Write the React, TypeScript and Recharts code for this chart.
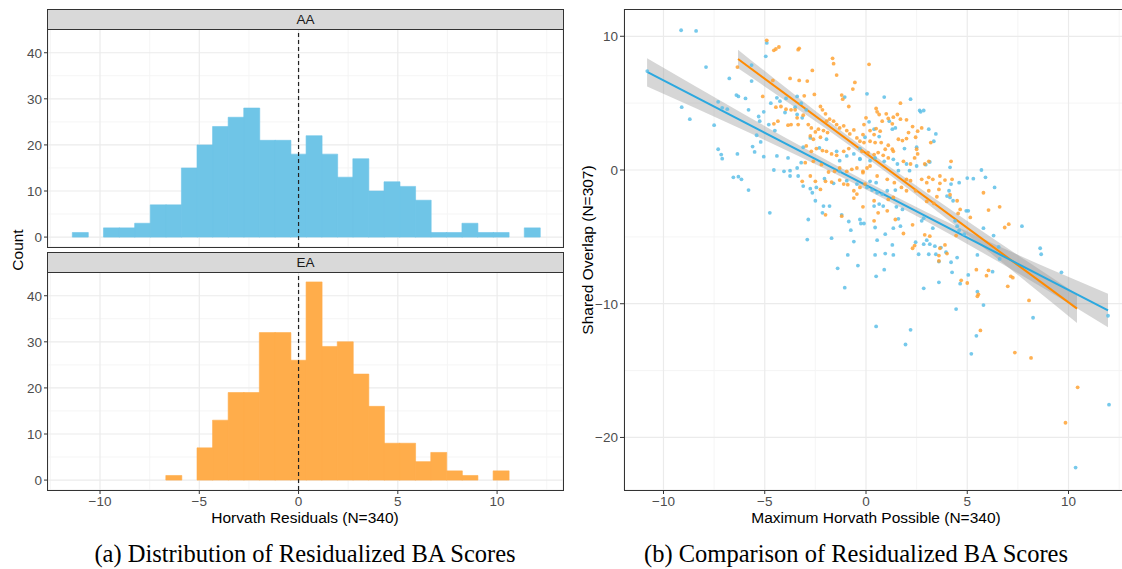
import { ComposedChart, Bar, XAxis, YAxis, ReferenceLine, Scatter, Line, Area, CartesianGrid } from "recharts";

// ---- left: histograms of Horvath residuals ----
const histTicksX = [-10, -5, 0, 5, 10];
const histMinorX = [-12.5, -7.5, -2.5, 2.5, 7.5, 12.5];
const countTicks = [0, 10, 20, 30, 40];
const countMinor = [5, 15, 25, 35];

const binMids = [
  -11.003, -10.218, -9.433, -8.648, -7.863, -7.078, -6.293, -5.508, -4.723, -3.938,
  -3.153, -2.368, -1.583, -0.798, -0.013, 0.772, 1.557, 2.342, 3.127, 3.912,
  4.697, 5.482, 6.267, 7.052, 7.837, 8.622, 9.407, 10.192, 10.977, 11.762,
];
const aaCounts = [1, 0, 2, 2, 3, 7, 7, 15, 20, 24, 26, 28, 21, 21, 18, 22, 18, 13, 17, 10, 12, 11, 8, 1, 1, 3, 1, 1, 0, 2];
const eaCounts = [0, 0, 0, 0, 0, 0, 1, 0, 7, 13, 19, 19, 32, 32, 26, 43, 29, 30, 23, 16, 8, 8, 4, 6, 2, 1, 0, 2, 0, 0];

// ---- right: scatter ----
const scatTicksX = [-10, -5, 0, 5, 10];
const scatMinorX = [-7.5, -2.5, 2.5, 7.5, 12.5];
const scatTicksY = [-20, -10, 0, 10];
const scatMinorY = [-15, -5, 5];

const aaPoints = [
  [-9.13, 10.45], [-8.39, 10.4], [-10.8, 7.4], [-7.9, 7.7], [-9.1, 4.7], [-8.7, 3.8], [-6.75, 6.85], [-7.5, 3.35],
  [-7.3, 1.55], [-7.15, 1.15], [-7.1, 0.85], [-6.35, 1.2], [-6.55, -0.55], [-6.3, -0.5], [-6.15, -0.7], [-5.8, -1.5],
  [-6.4, 5.6], [-6.3, 5.5], [-5.95, 5.35], [-7.3, 5.1], [-7.1, 4.65], [-6.85, 4.55], [-5.8, 4.5], [-5.65, 7.85],
  [-4.95, 8.5], [-4.9, 9.5], [-5.65, 6.65], [-5.3, 4.0], [-5.05, 4.35], [-5.25, 3.65], [-5.4, 2.6], [-5.2, 2.1],
  [-5.6, 1.75], [-5.5, 1.35], [-5.05, 1.0], [-4.8, 3.4], [-4.5, 2.95], [-4.7, 5.0], [-4.4, 5.4], [-3.95, 5.35],
  [-3.4, 5.5], [-3.2, 5.0], [-3.5, 4.7], [-2.95, 4.5], [-3.4, 4.15], [-3.15, 3.9], [-4.4, 1.05], [-3.85, 0.9],
  [-3.4, 0.15], [-3.2, 0.55], [-3.1, 1.7], [-2.75, 2.4], [-4.55, 0.0], [-4.05, -0.1], [-3.75, -0.45], [-3.35, -0.45],
  [-3.1, -1.2], [-2.75, -1.4], [-2.65, -1.7], [-2.45, -1.3], [-2.05, -0.65], [-1.6, -1.0], [-2.5, -2.3], [-2.1, -2.7],
  [-1.8, -2.7], [-2.15, -3.2], [-4.75, -3.2], [-2.85, -3.7], [-1.2, -3.35], [-0.85, -3.85], [-0.75, -4.5], [-0.25, -4.0],
  [-0.6, -5.35], [-1.7, -5.1], [-2.9, -5.2], [-1.4, -7.35], [-0.9, -6.35], [-0.4, -7.15], [-0.95, 1.05], [-0.6, 1.2],
  [-0.3, 0.85], [-0.05, 2.45], [-1.05, 5.45], [-1.45, 1.4], [-2.3, 1.65], [-1.95, 2.3], [-1.3, 0.7], [-4.0, 4.3],
  [-4.25, 5.15], [-3.75, -0.05], [-0.95, -0.8], [-0.45, -1.05], [-1.3, -0.1],
  [0.05, 5.7], [0.9, 5.45], [2.2, 5.3], [2.65, 4.45], [2.7, 4.35], [2.85, 4.45], [0.15, 3.6], [1.15, 3.65],
  [1.3, 3.05], [1.45, 3.15], [0.4, 3.05], [3.1, 3.05], [3.45, 2.7], [3.35, 2.15], [0.65, 2.5], [1.9, 1.6],
  [2.5, 1.7], [-0.3, 1.6], [-0.3, 0.8], [0.2, 0.7], [0.45, 0.9], [0.9, 0.65], [1.35, 0.8], [1.55, 0.45],
  [2.0, 0.45], [2.5, 0.3], [2.95, 0.4], [3.15, 0.6], [4.15, 0.2], [1.6, -0.05], [2.15, -0.05], [5.7, 0.0],
  [5.9, -0.55], [6.35, -1.3], [4.6, -0.95], [5.0, -0.6], [5.3, -0.65], [0.2, -0.85], [0.5, -0.95], [0.05, -1.3],
  [0.3, -1.5], [0.55, -1.7], [0.8, -1.8], [1.05, -1.55], [1.45, -1.5], [4.1, -1.55], [4.2, -1.05], [4.0, -1.95],
  [4.3, -2.3], [4.15, -2.05], [0.4, -2.7], [0.65, -2.55], [0.85, -2.7], [1.5, -2.75], [1.8, -2.95], [-0.3, -3.7],
  [-0.1, -4.0], [0.45, -4.3], [0.95, -4.8], [1.35, -4.35], [1.6, -3.65], [1.7, -4.2], [4.95, -3.05], [5.05, -3.05],
  [4.4, -3.8], [4.5, -4.2], [4.6, -4.5], [4.85, -4.8], [5.8, -4.35], [6.3, -4.9], [7.7, -4.2], [2.75, -3.8],
  [2.85, -3.6], [3.3, -4.35], [3.0, -5.25], [3.15, -5.55], [3.4, -5.7], [3.7, -5.8], [0.55, -5.25], [1.3, -5.6],
  [0.95, -6.25], [0.45, -6.35], [1.35, -6.35], [2.45, -5.4], [2.85, -5.55], [2.6, -6.3], [3.1, -6.3], [3.45, -6.3],
  [3.95, -6.15], [4.5, -6.55], [4.2, -6.9], [3.6, -6.85], [5.5, -6.35], [6.55, -5.75], [6.6, -6.65], [8.6, -5.85],
  [8.65, -6.3], [9.65, -7.65], [0.9, -7.45], [4.25, -7.65], [5.05, -7.85], [6.25, -7.6],
  [-1.05, -8.8], [0.5, -7.95], [0.5, -11.7], [2.2, -11.95], [1.95, -13.05], [2.85, -8.85], [3.6, -8.4], [4.65, -8.5],
  [4.45, -10.4], [5.5, -9.1], [5.8, -10.1], [5.45, -12.4], [5.2, -13.75], [8.25, -11.05], [11.95, -10.9],
  [10.35, -22.25], [12.0, -17.55],
];

const eaPoints = [
  [-4.9, 9.7], [-4.55, 8.95], [-4.45, 9.05], [-4.3, 9.2], [-3.35, 9.0], [-3.3, 9.1], [-6.35, 7.7], [-1.65, 8.35],
  [-1.6, 7.95], [-1.45, 7.1], [-2.65, 7.45], [-3.75, 6.85], [-3.3, 6.7], [-2.9, 6.65], [-0.55, 6.55], [-0.65, 6.05],
  [-1.2, 5.6], [-1.15, 5.3], [-0.85, 4.75], [-5.1, 5.5], [-4.6, 6.7], [-4.45, 4.7], [-4.2, 4.75], [-3.95, 4.55],
  [-3.7, 4.5], [-3.5, 4.5], [-3.85, 3.35], [-3.7, 3.4], [-3.35, 3.4], [-3.05, 5.55], [-2.55, 5.65], [-4.55, 3.45],
  [-4.35, 3.65], [-3.4, 3.9], [-3.1, 4.1], [-2.25, 4.75], [-2.15, 4.5], [-2.0, 4.2],
  [-2.85, 3.4], [-2.7, 3.15], [-2.5, 2.85], [-2.35, 3.05], [-2.75, 2.55], [-2.6, 2.3], [-2.25, 2.45], [-2.1, 2.95],
  [-1.9, 2.8], [-1.95, 3.65], [-1.8, 3.8], [-1.6, 3.65], [-1.45, 3.4], [-1.3, 3.15], [-1.1, 3.3], [-0.95, 2.95],
  [-0.8, 2.7], [-0.6, 3.0], [-0.45, 2.4], [-0.3, 2.15], [-0.15, 2.65],
  [-2.95, 1.8], [-2.7, 1.4], [-2.45, 1.6], [-2.15, 1.45], [-1.95, 1.4], [-1.7, 1.2], [-1.45, 1.1], [-1.1, 1.4],
  [-0.85, 1.6], [-3.0, 0.55], [-2.6, 0.65], [-2.2, 0.4], [-1.85, -0.15], [-1.55, -0.1], [-1.3, 0.15], [-0.95, -0.1],
  [-0.7, 0.05], [-0.45, 0.15], [-0.15, -0.1], [-3.15, -0.85], [-2.75, -0.45], [-2.5, -0.85], [-2.0, -0.85],
  [-1.7, -0.9], [-1.3, -0.75], [-1.1, -1.05], [-0.9, -1.1], [-0.6, -1.55], [-0.45, -1.8], [-0.6, -2.1], [-0.3, -1.3],
  [-0.05, -1.05], [-2.0, -3.35], [-1.2, -3.45], [-2.25, -1.45],
  [0.15, 7.9], [0.5, 4.6], [0.55, 4.35], [0.65, 4.15], [1.0, 4.2], [1.35, 3.95], [1.55, 4.15], [1.7, 5.0],
  [0.8, 3.65], [1.1, 3.85], [1.3, 3.45], [1.7, 3.8], [2.0, 3.75], [0.0, 3.9], [-0.1, 3.4], [0.2, 2.95],
  [0.5, 3.1], [0.7, 2.9], [0.4, 2.65], [2.3, 3.25], [2.55, 2.9], [2.75, 3.15], [2.1, 2.8], [1.6, 2.3],
  [1.8, 2.2], [2.0, 2.35], [2.45, 2.45], [3.2, 2.05], [-0.1, 2.05], [0.2, 2.15], [0.45, 2.05], [0.75, 2.05],
  [1.1, 1.85], [1.3, 1.55], [-0.2, 1.4], [0.1, 1.3], [0.4, 1.15], [0.6, 1.3], [0.85, 1.1], [1.1, 0.9],
  [1.35, 1.4], [0.95, 1.55], [2.5, 1.55], [2.55, 1.2], [2.4, 0.9], [1.85, 0.65], [2.2, 0.45], [2.9, 0.45],
  [3.1, 0.65], [4.2, 0.65], [0.05, 0.15], [0.2, 0.3], [-0.15, -0.2], [0.55, -0.45], [1.05, -0.7], [1.4, -0.95],
  [2.0, -0.7], [2.2, -0.8], [2.75, -0.7], [3.1, -0.55], [3.3, -0.7], [3.65, -0.45], [3.9, -0.75], [4.25, -0.7],
  [3.65, -1.0], [3.0, -0.95], [1.75, -1.3], [2.0, -1.55], [2.45, -1.55], [3.1, -1.55], [3.6, -1.45], [4.15, -1.85],
  [4.5, -2.3], [4.65, -2.95], [4.55, -3.25], [5.15, -3.55], [6.05, -3.0], [6.6, -2.75], [3.5, -2.0], [3.35, -2.5],
  [3.0, -2.35], [1.1, -2.2], [1.35, -2.05], [0.4, -2.3], [-0.15, -2.75], [0.4, -3.8], [0.6, -3.2], [1.05, -3.05],
  [1.45, -3.7], [1.85, -4.75], [2.3, -4.1], [2.9, -4.85], [3.15, -4.95], [2.4, -5.65], [2.3, -5.85], [3.65, -5.85],
  [3.6, -6.4], [4.0, -6.25], [3.6, -6.8], [5.45, -7.45], [6.05, -7.5], [5.8, -1.7], [6.85, -4.3], [7.05, -4.05],
  [4.45, -4.9], [3.9, -5.6], [4.7, -8.25], [5.0, -8.45], [5.55, -9.3], [5.5, -9.45], [5.95, -7.9], [7.0, -8.7],
  [7.15, -7.95], [7.25, -8.05], [8.05, -9.75], [5.65, -12.0], [7.35, -13.65], [8.15, -14.05], [10.45, -16.25],
  [9.85, -18.9],
];

// fitted lines (end points) and confidence bands
const aaFitX = [-10.81, 11.95];
const aaFitY = [7.33, -10.5];
const aaBandX = [-10.81, -6, -3, 0, 3, 6, 9, 11.95];
const aaBandLo = [6.25, 2.95, 0.8, -1.45, -3.85, -6.4, -9.05, -11.75];
const aaBandHi = [8.35, 4.15, 1.6, -0.85, -3.15, -5.3, -7.35, -9.25];

const eaFitX = [-6.32, 10.42];
const eaFitY = [8.3, -10.37];
const eaBandX = [-6.32, -4, -2, 0, 2, 4, 6, 8, 10.42];
const eaBandLo = [7.6, 5.2, 3.13, 0.95, -1.3, -3.66, -6.04, -8.47, -11.45];
const eaBandHi = [9.0, 6.2, 3.83, 1.55, -0.66, -2.76, -4.84, -6.87, -9.3];

const FONT = "'Liberation Sans', Arial, Helvetica, sans-serif";
const AA_FILL = "#6FC5E7";
const EA_FILL = "#FFAD4B";
const AA_DOT = "#5EC0E8";
const EA_DOT = "#FFA335";
const AA_LINE = "#2BA8DF";
const EA_LINE = "#FF8A00";
const MAJOR = "#EBEBEB";
const MINOR = "#F4F4F4";

const minus = (v: number) => (v < 0 ? "\u2212" + Math.abs(v) : String(v));
const tickStyle = { fontSize: 13.5, fill: "#4D4D4D", fontFamily: FONT };

function HistPanel({ counts, fill, showX }: { counts: number[]; fill: string; showX: boolean }) {
  const data = binMids.map((mid, i) => ({ mid, count: counts[i] }));
  return (
    <ComposedChart
      width={565}
      height={showX ? 248 : 218}
      data={data}
      barCategoryGap={0}
      barGap={0}
      margin={{ top: 0, right: 2, bottom: 0, left: 8 }}
    >
      <CartesianGrid
        stroke={MINOR}
        strokeWidth={0.9}
        verticalValues={histMinorX}
        horizontalValues={countMinor}
      />
      <CartesianGrid stroke={MAJOR} strokeWidth={1.2} />
      <XAxis
        type="number"
        dataKey="mid"
        domain={[-12.62, 13.32]}
        ticks={histTicksX}
        allowDataOverflow
        hide={!showX}
        height={showX ? 30 : 0}
        axisLine={false}
        tickLine={{ stroke: "#333333" }}
        tickSize={4}
        tickMargin={2}
        tick={tickStyle}
        tickFormatter={minus}
        interval={0}
      />
      <YAxis
        type="number"
        domain={[-2.15, 45.15]}
        ticks={countTicks}
        allowDataOverflow
        width={40}
        axisLine={false}
        tickLine={{ stroke: "#333333" }}
        tickSize={4}
        tickMargin={2}
        tick={tickStyle}
        interval={0}
      />
      <Bar dataKey="count" fill={fill} stroke={fill} strokeWidth={0.6} isAnimationActive={false} />
      <ReferenceLine x={0} stroke="#222222" strokeWidth={1.2} strokeDasharray="4 3" />
    </ComposedChart>
  );
}

const dot = (color: string) => (p: any) =>
  <circle cx={p.cx} cy={p.cy} r={1.9} fill={color} fillOpacity={0.85} />;

function ScatterPanel() {
  const aaData = aaPoints.map(([x, y]) => ({ x, y }));
  const eaData = eaPoints.map(([x, y]) => ({ x, y }));
  const aaFit = aaFitX.map((x, i) => ({ x, y: aaFitY[i] }));
  const eaFit = eaFitX.map((x, i) => ({ x, y: eaFitY[i] }));
  const aaBand = aaBandX.map((x, i) => ({ x, band: [aaBandLo[i], aaBandHi[i]] }));
  const eaBand = eaBandX.map((x, i) => ({ x, band: [eaBandLo[i], eaBandHi[i]] }));
  return (
    <ComposedChart width={560} height={511} margin={{ top: 0, right: 0, bottom: 0, left: 0 }}>
      <CartesianGrid
        stroke={MINOR}
        strokeWidth={0.9}
        verticalValues={scatMinorX}
        horizontalValues={scatMinorY}
      />
      <CartesianGrid stroke={MAJOR} strokeWidth={1.2} />
      <XAxis
        type="number"
        dataKey="x"
        domain={[-11.95, 12.74]}
        ticks={scatTicksX}
        allowDataOverflow
        height={30}
        axisLine={false}
        tickLine={{ stroke: "#333333" }}
        tickSize={4}
        tickMargin={2}
        tick={tickStyle}
        tickFormatter={minus}
        interval={0}
      />
      <YAxis
        type="number"
        dataKey="y"
        domain={[-23.93, 12.04]}
        ticks={scatTicksY}
        allowDataOverflow
        width={60}
        axisLine={false}
        tickLine={{ stroke: "#333333" }}
        tickSize={4}
        tickMargin={2}
        tick={tickStyle}
        tickFormatter={minus}
        interval={0}
      />
      <Scatter data={aaData} dataKey="y" shape={dot(AA_DOT)} isAnimationActive={false} />
      <Scatter data={eaData} dataKey="y" shape={dot(EA_DOT)} isAnimationActive={false} />
      <Area data={eaBand} dataKey="band" type="monotone" stroke="none" fill="#999999" fillOpacity={0.4} isAnimationActive={false} />
      <Line data={eaFit} dataKey="y" type="linear" stroke={EA_LINE} strokeWidth={2} dot={false} isAnimationActive={false} />
      <Area data={aaBand} dataKey="band" type="monotone" stroke="none" fill="#999999" fillOpacity={0.4} isAnimationActive={false} />
      <Line data={aaFit} dataKey="y" type="linear" stroke={AA_LINE} strokeWidth={2} dot={false} isAnimationActive={false} />
    </ComposedChart>
  );
}

const abs = (s: React.CSSProperties): React.CSSProperties => ({ position: "absolute", ...s });
const strip: React.CSSProperties = {
  background: "#D9D9D9",
  border: "1px solid #333333",
  boxSizing: "border-box",
  textAlign: "center",
  fontSize: 13.5,
  lineHeight: "19px",
  color: "#1A1A1A",
};
const border: React.CSSProperties = { border: "1px solid #333333", boxSizing: "border-box", pointerEvents: "none" };
const caption: React.CSSProperties = {
  fontFamily: "'Liberation Serif', 'Times New Roman', serif",
  fontSize: 24.5,
  color: "#000",
  textAlign: "center",
  whiteSpace: "nowrap",
};
const title: React.CSSProperties = { fontSize: 15.5, color: "#000", whiteSpace: "nowrap" };

export default function App() {
  return (
    <div style={abs({ left: 0, top: 0, width: 1122, height: 569, overflow: "hidden", background: "#fff", fontFamily: FONT })}>
      {/* left: facetted histograms */}
      <div style={abs({ left: 47, top: 9, width: 517, height: 21, ...strip })}>AA</div>
      <div style={abs({ left: 0, top: 29 })}>
        <HistPanel counts={aaCounts} fill={AA_FILL} showX={false} />
      </div>
      <div style={abs({ left: 47, top: 29, width: 517, height: 219, ...border })} />

      <div style={abs({ left: 47, top: 252, width: 517, height: 21, ...strip })}>EA</div>
      <div style={abs({ left: 0, top: 272 })}>
        <HistPanel counts={eaCounts} fill={EA_FILL} showX={true} />
      </div>
      <div style={abs({ left: 47, top: 272, width: 517, height: 219, ...border })} />

      <div style={abs({ left: 18, top: 250, transform: "translate(-50%, -50%) rotate(-90deg)", ...title })}>
        Count
      </div>
      <div style={abs({ left: 305, top: 518, transform: "translate(-50%, -50%)", ...title })}>
        Horvath Residuals (N=340)
      </div>

      {/* right: scatter with fitted lines */}
      <div style={abs({ left: 564, top: 9 })}>
        <ScatterPanel />
      </div>
      <div style={abs({ left: 624, top: 9, width: 510, height: 482, ...border })} />
      <div style={abs({ left: 588, top: 250, transform: "translate(-50%, -50%) rotate(-90deg)", ...title })}>
        Shared Overlap (N=307)
      </div>
      <div style={abs({ left: 876, top: 518, transform: "translate(-50%, -50%)", ...title })}>
        Maximum Horvath Possible (N=340)
      </div>

      {/* sub-captions */}
      <div style={abs({ left: 305, top: 554, transform: "translate(-50%, -50%)", ...caption })}>
        (a) Distribution of Residualized BA Scores
      </div>
      <div style={abs({ left: 856, top: 554, transform: "translate(-50%, -50%)", ...caption })}>
        (b) Comparison of Residualized BA Scores
      </div>
    </div>
  );
}
